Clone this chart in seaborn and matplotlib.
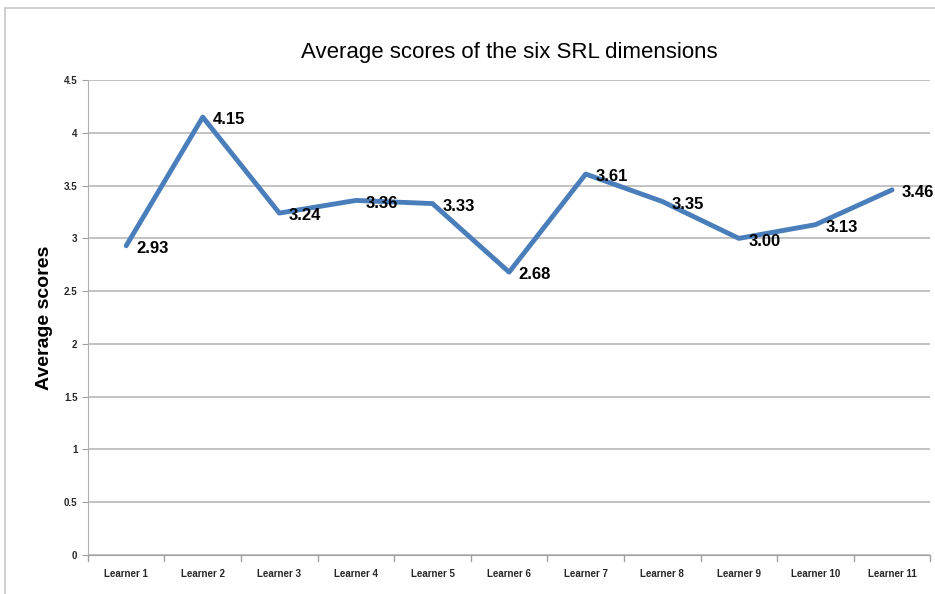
import matplotlib
matplotlib.use("Agg")
import matplotlib.pyplot as plt
import seaborn as sns
import pandas as pd
from matplotlib.patches import Rectangle

learners = ["Learner 1", "Learner 2", "Learner 3", "Learner 4", "Learner 5", "Learner 6",
            "Learner 7", "Learner 8", "Learner 9", "Learner 10", "Learner 11"]
scores = [2.93, 4.15, 3.24, 3.36, 3.33, 2.68, 3.61, 3.35, 3.00, 3.13, 3.46]
y_ticks = [0, 0.5, 1, 1.5, 2, 2.5, 3, 3.5, 4, 4.5]

df = pd.DataFrame({"learner": learners, "score": scores})

sns.set_style("white")
plt.rcParams['font.family'] = ['Liberation Sans', 'DejaVu Sans']

fig = plt.figure(figsize=(9.35, 5.94), dpi=100)
ax = fig.add_axes([0.094, 0.066, 0.901, 0.799])

# light border around the chart area
fig.patches.append(Rectangle((0.005, -0.05), 1.2, 1.036, transform=fig.transFigure,
                             fill=False, edgecolor="#c8c8c8", linewidth=1.2))

sns.lineplot(data=df, x="learner", y="score", ax=ax, sort=False,
             color="#4a7ebb", linewidth=3.5)

# data labels to the right of each point
for i, v in enumerate(scores):
    ax.annotate(f"{v:.2f}", (i, v), xytext=(7, -2), textcoords="offset points",
                ha="left", va="center", fontsize=12, fontweight="bold", color="black")

ax.set_xlim(-0.5, len(learners) - 0.5)
ax.set_ylim(0, 4.5)
ax.set_yticks(y_ticks)
ax.set_yticklabels([f"{t:g}" for t in y_ticks], fontsize=7, fontweight="bold")
ax.set_xticks(range(len(learners)))
ax.set_xticklabels(learners, fontsize=7, fontweight="bold")
ax.tick_params(axis="x", length=0, pad=10)
ax.tick_params(axis="y", length=4, color="#a0a0a0", left=True)
# category separators on the x axis
for b in [i - 0.5 for i in range(len(learners) + 1)]:
    ax.plot([b, b], [0, -0.06], color="#a0a0a0", linewidth=1, clip_on=False)

ax.yaxis.grid(True, color="#b8b8b8", linewidth=1.2)
ax.set_axisbelow(True)
for s in ["top", "right"]:
    ax.spines[s].set_visible(False)
ax.spines["left"].set_color("#b0b0b0")
ax.spines["bottom"].set_color("#a0a0a0")

ax.set_xlabel("")
ax.set_ylabel("Average scores", fontsize=14, fontweight="bold", labelpad=8, color="black")
ax.set_title("Average scores of the six SRL dimensions", fontsize=16, pad=16, color="black")

plt.savefig("out.png", dpi=100)
